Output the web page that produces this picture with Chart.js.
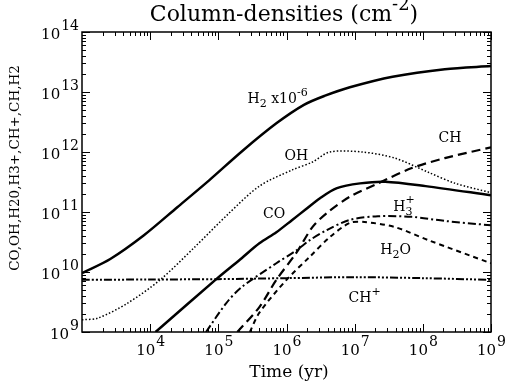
<!DOCTYPE html>
<html>
<head>
<meta charset="utf-8">
<script src="https://cdn.jsdelivr.net/npm/chart.js@4.4.0/dist/chart.umd.min.js"></script>
<style>
  html, body { margin: 0; padding: 0; background: #fff; }
  #wrap { width: 510px; height: 382px; }
</style>
</head>
<body>
<div id="wrap"><canvas id="chart" width="510" height="382"></canvas></div>
<script>
// time in yr, column density in cm^-2
const h2Time = [1e3, 2.6e3, 8.1e3, 2.5e4, 7.4e4, 2.25e5, 7.1e5, 1.8e6, 3.6e6, 8.5e6, 3.6e7, 2.1e8, 1e9];
const h2Col  = [9.6e9, 1.65e10, 4.1e10, 1.2e11, 3.4e11, 1.04e12, 3.0e12, 6.1e12, 8.6e12, 1.2e13, 1.8e13, 2.4e13, 2.7e13];

const ohTime = [1e3, 1.7e3, 4.6e3, 1.4e4, 4.5e4, 1.4e5, 4.0e5, 1.2e6, 2.4e6, 4.3e6, 1.3e7, 3.9e7, 1.2e8, 3.0e8, 1e9];
const ohCol  = [1.6e9, 1.7e9, 3.0e9, 7.4e9, 2.6e10, 9.3e10, 2.7e11, 5.0e11, 6.8e11, 1.0e12, 1.0e12, 7.9e11, 4.6e11, 3.0e11, 2.1e11];

const coTime = [1.2e4, 9.7e4, 2.2e5, 4.0e5, 7.1e5, 1.2e6, 1.9e6, 3.1e6, 5.5e6, 1.2e7, 2.8e7, 1.1e8, 1e9];
const coCol  = [1.0e9, 7.9e9, 1.7e10, 3.0e10, 4.6e10, 7.3e10, 1.1e11, 1.7e11, 2.5e11, 3.0e11, 3.2e11, 2.7e11, 1.9e11];

const chTime = [1.9e5, 4.0e5, 7.1e5, 1.4e6, 2.4e6, 3.9e6, 8.5e6, 2.2e7, 6.9e7, 2.1e8, 1e9];
const chCol  = [1.0e9, 2.6e9, 7.4e9, 2.1e10, 5.6e10, 9.6e10, 1.8e11, 3.0e11, 5.4e11, 7.9e11, 1.2e12];

const h3pTime = [6.6e4, 1.3e5, 2.2e5, 7.1e5, 1.4e6, 2.2e6, 3.9e6, 8.5e6, 2.2e7, 6.9e7, 2.1e8, 1e9];
const h3pCol  = [1.0e9, 3.0e9, 5.6e9, 1.4e10, 2.3e10, 3.4e10, 5.0e10, 7.4e10, 8.5e10, 8.3e10, 7.1e10, 6.0e10];

const h2oTime = [2.9e5, 4.0e5, 1.0e6, 2.2e6, 4.3e6, 8.5e6, 1.4e7, 3.9e7, 1.2e8, 1e9];
const h2oCol  = [1.0e9, 2.1e9, 7.4e9, 1.8e10, 3.8e10, 6.6e10, 6.8e10, 5.6e10, 3.4e10, 1.4e10];

const chpTime = [1e3, 1e4, 1e5, 1e6, 1e7, 1e8, 1e9];
const chpCol  = [7.4e9, 7.5e9, 7.6e9, 7.9e9, 8.2e9, 7.9e9, 7.4e9];

const xDecades = [3, 4, 5, 6, 7, 8, 9];
const yDecades = [9, 10, 11, 12, 13, 14];
const xLabelDecades = [4, 5, 6, 7, 8, 9];

// text next to the curves: [parts, time, column]
const curveLabels = [
  [[['H', ''], ['2', 'sub'], [' x10', ''], ['-6', 'sup']], 7.4e5, 7.9e12],
  [[['OH', '']], 1.4e6, 8.9e11],
  [[['CH', '']], 2.5e8, 1.8e12],
  [[['CO', '']], 6.6e5, 9.6e10],
  [[['H', ''], ['3', 'sub'], ['+', 'over']], 5.1e7, 1.26e11],
  [[['H', ''], ['2', 'sub'], ['O', '']], 4.0e7, 2.4e10],
  [[['CH', ''], ['+', 'sup']], 1.4e7, 3.8e9]
];

const FONT = '"DejaVu Serif", "Liberation Serif", serif';

function pts(times, cols) {
  return times.map((t, i) => ({ x: t, y: cols[i] }));
}

function line(data, width, dash) {
  return {
    data,
    borderColor: '#000',
    borderWidth: width,
    borderDash: dash,
    pointRadius: 0,
    tension: 0.3,
    fill: false
  };
}

function drawRich(ctx, parts, x, y, align, size) {
  const fontOf = kind => (kind ? Math.round(size * 0.8) : size) + 'px ' + FONT;
  let w = 0;
  parts.forEach(p => {
    ctx.font = fontOf(p[1]);
    if (p[1] !== 'over') w += ctx.measureText(p[0]).width;
  });
  let cx = align === 'center' ? x - w / 2 : align === 'right' ? x - w : x;
  let lastX = cx;
  ctx.textAlign = 'left';
  ctx.textBaseline = 'alphabetic';
  parts.forEach(p => {
    ctx.font = fontOf(p[1]);
    if (p[1] === 'over') {
      // superscript stacked above the previous subscript
      ctx.fillText(p[0], lastX, y - size * 0.55);
      return;
    }
    const dy = p[1] === 'sub' ? size * 0.3 : p[1] === 'sup' ? -size * 0.5 : 0;
    ctx.fillText(p[0], cx, y + dy);
    lastX = cx;
    cx += ctx.measureText(p[0]).width;
  });
}

function powerLabel(ctx, exp, x, y, align) {
  // "10" with a raised exponent, same size as in the figure
  ctx.font = '15px ' + FONT;
  const wb = ctx.measureText('10').width;
  ctx.font = '14px ' + FONT;
  const we = ctx.measureText(String(exp)).width;
  const left = align === 'right' ? x - wb - we : x - (wb + we) / 2;
  ctx.textAlign = 'left';
  ctx.font = '15px ' + FONT;
  ctx.fillText('10', left, y);
  ctx.font = '14px ' + FONT;
  ctx.fillText(String(exp), left + wb + 1, y - 9);
}

const decor = {
  id: 'decor',
  afterDraw(chart) {
    const { ctx, chartArea: a, scales: { x, y } } = chart;
    ctx.save();
    ctx.fillStyle = '#000';
    ctx.strokeStyle = '#000';

    // frame
    ctx.lineWidth = 1.5;
    ctx.strokeRect(a.left, a.top, a.right - a.left, a.bottom - a.top);

    // ticks on all four sides
    ctx.lineWidth = 1;
    ctx.beginPath();
    xDecades.forEach(k => {
      for (let m = 1; m <= 9; m++) {
        const v = m * Math.pow(10, k);
        if (v > 1e9 || (k === 3 && m === 1)) continue;
        const px = Math.round(x.getPixelForValue(v)) + 0.5;
        const len = m === 1 ? 8 : 4;
        ctx.moveTo(px, a.bottom); ctx.lineTo(px, a.bottom - len);
        ctx.moveTo(px, a.top); ctx.lineTo(px, a.top + len);
      }
    });
    yDecades.forEach(k => {
      for (let m = 1; m <= 9; m++) {
        const v = m * Math.pow(10, k);
        if (v > 1e14) continue;
        const py = Math.round(y.getPixelForValue(v)) + 0.5;
        const len = m === 1 ? 8 : 4;
        ctx.moveTo(a.left, py); ctx.lineTo(a.left + len, py);
        ctx.moveTo(a.right, py); ctx.lineTo(a.right - len, py);
      }
    });
    ctx.stroke();

    // tick labels
    yDecades.forEach(k => {
      const py = y.getPixelForValue(Math.pow(10, k));
      powerLabel(ctx, k, a.left - 4, py + 7, 'right');
    });
    xLabelDecades.forEach(k => {
      const px = x.getPixelForValue(Math.pow(10, k));
      powerLabel(ctx, k, px, a.bottom + 23, 'center');
    });

    // title
    drawRich(ctx, [['Column-densities (cm', ''], ['-2', 'sup'], [')', '']], 284, 21, 'center', 22);

    // axis titles
    ctx.font = '17px ' + FONT;
    ctx.textAlign = 'center';
    ctx.fillText('Time (yr)', 289, 377);

    ctx.save();
    ctx.translate(19, 168);
    ctx.rotate(-Math.PI / 2);
    ctx.font = '13.5px ' + FONT;
    ctx.textAlign = 'center';
    ctx.fillText('CO,OH,H20,H3+,CH+,CH,H2', 0, 0);
    ctx.restore();

    // curve names
    curveLabels.forEach(([parts, t, n]) => {
      drawRich(ctx, parts, x.getPixelForValue(t), y.getPixelForValue(n) + 5, 'center', 14);
    });

    ctx.restore();
  }
};

new Chart(document.getElementById('chart'), {
  type: 'line',
  data: {
    datasets: [
      line(pts(h2Time, h2Col), 2.5, []),
      line(pts(ohTime, ohCol), 1.5, [1.5, 2]),
      line(pts(coTime, coCol), 2.5, []),
      line(pts(chTime, chCol), 2.2, [9, 5]),
      line(pts(h3pTime, h3pCol), 2, [8, 3, 2, 3]),
      line(pts(h2oTime, h2oCol), 2, [5, 4]),
      line(pts(chpTime, chpCol), 2, [8, 2, 2, 2, 2, 2, 2, 2])
    ]
  },
  options: {
    responsive: false,
    animation: false,
    devicePixelRatio: 1,
    layout: { padding: { left: 82, right: 19, top: 32, bottom: 50 } },
    plugins: { legend: { display: false }, tooltip: { enabled: false }, title: { display: false } },
    scales: {
      x: { type: 'logarithmic', min: 1e3, max: 1e9, display: false },
      y: { type: 'logarithmic', min: 1e9, max: 1e14, display: false }
    }
  },
  plugins: [decor]
});
</script>
</body>
</html>
